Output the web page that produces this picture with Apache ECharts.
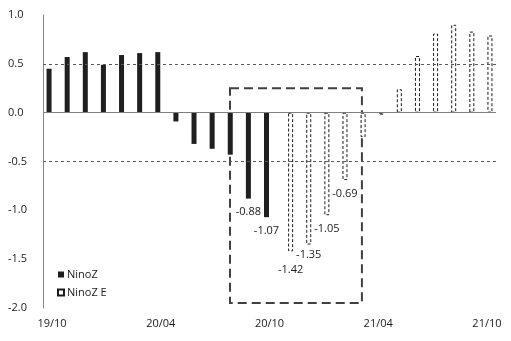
<!DOCTYPE html>
<html>
<head>
<meta charset="utf-8">
<script src="https://cdn.jsdelivr.net/npm/echarts@6/dist/echarts.min.js"></script>
<style>html,body{margin:0;padding:0;background:#fff;}#c{width:511px;height:341px;}</style>
</head>
<body>
<div id="c"></div>
<script>
const categories = ['19/10','19/11','19/12','20/01','20/02','20/03','20/04','20/05','20/06','20/07','20/08','20/09','20/10','20/11','20/12','21/01','21/02','21/03','21/04','21/05','21/06','21/07','21/08','21/09','21/10'];
const ninoZ = [0.45,0.57,0.62,0.49,0.59,0.61,0.62,-0.09,-0.32,-0.37,-0.43,-0.88,-1.07,null,null,null,null,null,null,null,null,null,null,null,null];
const ninoZE = [null,null,null,null,null,null,null,null,null,null,null,null,null,-1.42,-1.35,-1.05,-0.69,-0.25,-0.02,0.24,0.58,0.81,0.90,0.83,0.79];
const labeledZ = [11,12];
const labeledZE = [13,14,15,16];
const yTicks = {min:-2, max:1, interval:0.5};
const refLines = [0.5,-0.5];
// highlight box, in month-slot units (0 = left edge of 19/10 slot) and y values
const boxRange = {x0:10.32, x1:17.6, yTop:0.25, yBottom:-1.95};

const FONT = 'Open Sans';
const labelOffsets = {13:[0,5],14:[0,-3]};
function mk(arr, labeled){
  return arr.map((v,i)=>{
    if(labeled.indexOf(i)>=0){
      return {value:v,label:{show:true,position:'bottom',distance:8,offset:labelOffsets[i]||[0,0],
        formatter:(p)=>p.value.toFixed(2),color:'#1a1a1a',fontSize:11,fontFamily:FONT}};
    }
    return v;
  });
}
const chart = echarts.init(document.getElementById('c'),null,{renderer:'canvas'});
chart.setOption({
  animation:false,
  backgroundColor:'#fff',
  textStyle:{fontFamily:FONT},
  grid:{left:43,right:15,top:15,bottom:33,containLabel:false},
  legend:{
    orient:'vertical',left:57,top:269,padding:0,itemGap:7,itemWidth:6,itemHeight:6,
    icon:'rect',
    textStyle:{fontSize:11,color:'#1a1a1a',fontFamily:FONT,padding:[0,0,0,-2]},
    data:['NinoZ','NinoZ E']
  },
  xAxis:[{
    type:'category',data:categories,
    axisLine:{show:false},axisTick:{show:false},
    axisLabel:{interval:5,margin:10,fontSize:11,color:'#1a1a1a',fontFamily:FONT},
    splitLine:{show:false}
  },{
    type:'value',min:0,max:categories.length,show:false,splitLine:{show:false}
  }],
  yAxis:{
    type:'value',min:yTicks.min,max:yTicks.max,interval:yTicks.interval,
    axisLine:{show:true,lineStyle:{color:'#868686',width:1}},
    axisTick:{show:false},splitLine:{show:false},
    axisLabel:{align:'left',margin:35,fontSize:11,color:'#1a1a1a',fontFamily:FONT,formatter:(v)=>v.toFixed(1)}
  },
  series:[
    {
      name:'NinoZ',type:'bar',data:mk(ninoZ,labeledZ),barWidth:5,barGap:'20%',
      itemStyle:{color:'#1f1f1f'},
      markLine:{
        silent:true,symbol:'none',label:{show:false},
        data:[
          ...refLines.map(v=>({yAxis:v,lineStyle:{color:'#595959',type:[3,3],width:1}})),
          {yAxis:0,lineStyle:{color:'#7f7f7f',type:'solid',width:1}}
        ]
      }
    },
    {
      name:'NinoZ E',type:'bar',data:mk(ninoZE,labeledZE),barWidth:5,barGap:'20%',
      itemStyle:{color:'#ffffff',borderColor:'#1a1a1a',borderWidth:1,borderType:[3,2]}
    },
    {
      name:'box',type:'line',xAxisIndex:1,data:[],silent:true,
      markArea:{
        silent:true,
        itemStyle:{color:'rgba(0,0,0,0)',borderColor:'#404040',borderWidth:2,borderType:[9,5]},
        data:[[{xAxis:boxRange.x0,yAxis:boxRange.yTop},{xAxis:boxRange.x1,yAxis:boxRange.yBottom}]]
      }
    }
  ]
});
</script>
</body>
</html>
